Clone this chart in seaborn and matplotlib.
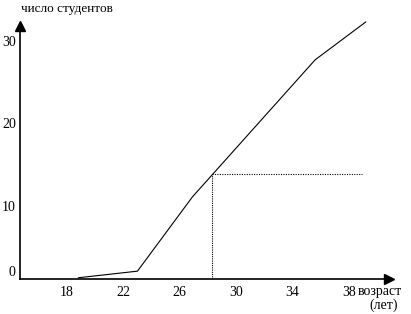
import matplotlib
matplotlib.use("Agg")
import matplotlib.pyplot as plt
import seaborn as sns
import pandas as pd

# data
age = [18.8, 23.0, 26.9, 35.6, 39.2]
students = [1.3, 2.1, 11.1, 27.7, 32.3]
mark_age = 28.3
mark_students = 13.9
mark_end = 38.9
x_ticks = [18, 22, 26, 30, 34, 38]
y_ticks = [10, 20, 30]
y_label = "число студентов"
x_label = "возраст"
x_label2 = "(лет)"

sns.set_style("white")
plt.rcParams['font.family'] = ['Liberation Serif', 'DejaVu Serif']

fig = plt.figure(figsize=(4.11, 3.14), dpi=100)
ax = fig.add_axes([20/411, (314-279)/314, (389-20)/411, (279-26)/314])

x0, y0 = 14.67, 1.15
ax.set_xlim(x0, 40.84)
ax.set_ylim(y0, 31.8)

df = pd.DataFrame({"age": age, "students": students})
sns.lineplot(data=df, x="age", y="students", ax=ax, color="black", linewidth=0.8, clip_on=False)

ax.plot([mark_age, mark_age], [y0, mark_students], color="black", linewidth=0.8, linestyle=(0, (1, 1)))
ax.plot([mark_age, mark_end], [mark_students, mark_students], color="black", linewidth=0.8, linestyle=(0, (1, 1.2)))

for s in ["top", "right"]:
    ax.spines[s].set_visible(False)
for s in ["left", "bottom"]:
    ax.spines[s].set_color("black")
    ax.spines[s].set_linewidth(1.2)

ax.plot(1, 0, ">k", markersize=7, transform=ax.transAxes, clip_on=False)
ax.plot(0, 1, "^k", markersize=7, transform=ax.transAxes, clip_on=False)

ax.set_xticks(x_ticks)
ax.set_xticklabels([str(t) for t in x_ticks])
ax.set_yticks([y0] + y_ticks)
ax.set_yticklabels(["0"] + [str(t) for t in y_ticks])
ax.get_yticklabels()[0].set_va("bottom")
ax.tick_params(axis="both", length=0, labelsize=10, colors="black")
ax.tick_params(axis="x", pad=5)
ax.tick_params(axis="y", pad=3)
ax.set_xlabel("")
ax.set_ylabel("")

fig.text(21/411, 1 - 9/314, y_label, ha="left", va="center", fontsize=9.5, color="black")
fig.text(358/411, 1 - 291/314, x_label, ha="left", va="center", fontsize=10, color="black")
fig.text(384/411, 1 - 305/314, x_label2, ha="center", va="center", fontsize=10, color="black")

fig.savefig("out.png", dpi=100, facecolor="white")
